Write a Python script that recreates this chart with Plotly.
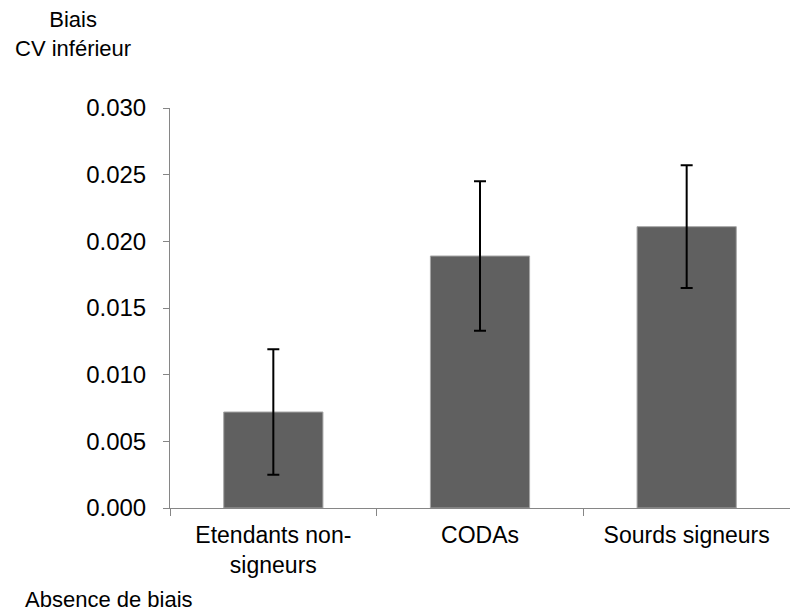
import plotly.graph_objects as go

# Group labels, mean bias and error half-widths
categories = ["Etendants non-<br>signeurs", "CODAs", "Sourds signeurs"]
bias_values = [0.0072, 0.0189, 0.0211]
bias_errors = [0.0047, 0.0056, 0.0046]
y_tick_values = [0.000, 0.005, 0.010, 0.015, 0.020, 0.025, 0.030]
y_tick_labels = ["0.000", "0.005", "0.010", "0.015", "0.020", "0.025", "0.030"]

FONT = "Liberation Sans, Arial, sans-serif"
AXIS_GREY = "#868686"

fig = go.Figure(
    go.Bar(
        x=categories,
        y=bias_values,
        marker=dict(color="#606060", line=dict(color="#a6a6a6", width=1)),
        error_y=dict(
            type="data",
            array=bias_errors,
            visible=True,
            color="black",
            thickness=2,
            width=6,
        ),
    )
)

fig.update_layout(
    width=790,
    height=612,
    margin=dict(l=170, r=0, t=108, b=104),
    paper_bgcolor="white",
    plot_bgcolor="white",
    bargap=0.52,
    showlegend=False,
    font=dict(family=FONT, color="black"),
    xaxis=dict(
        showline=True,
        linecolor=AXIS_GREY,
        linewidth=1,
        ticks="outside",
        tickson="boundaries",
        ticklen=7,
        tickcolor=AXIS_GREY,
        tickfont=dict(size=23, family=FONT),
        ticklabelstandoff=6,
        showgrid=False,
        zeroline=False,
    ),
    yaxis=dict(
        range=[0, 0.030],
        tickvals=y_tick_values,
        ticktext=y_tick_labels,
        showline=True,
        linecolor=AXIS_GREY,
        linewidth=1,
        ticks="outside",
        ticklen=6,
        tickcolor=AXIS_GREY,
        tickfont=dict(size=24, family=FONT),
        ticklabelstandoff=12,
        showgrid=False,
        zeroline=False,
    ),
    annotations=[
        dict(
            text="Biais<br>CV inférieur",
            xref="paper",
            yref="paper",
            x=-0.156,
            y=1.185,
            xanchor="center",
            yanchor="middle",
            showarrow=False,
            font=dict(size=22, family=FONT),
        ),
        dict(
            text="Absence de biais",
            xref="paper",
            yref="paper",
            x=-0.237,
            y=-0.2275,
            xanchor="left",
            yanchor="middle",
            showarrow=False,
            font=dict(size=22, family=FONT),
        ),
    ],
)

fig.write_html("out.html")
